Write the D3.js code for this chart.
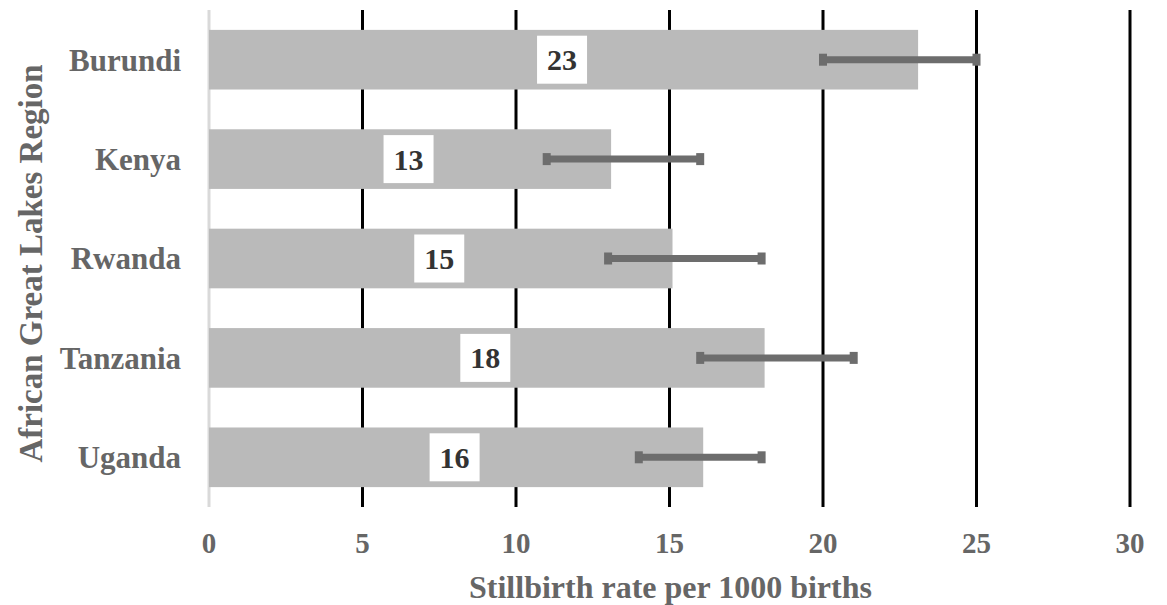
<!DOCTYPE html>
<html>
<head>
<meta charset="utf-8">
<script src="https://cdn.jsdelivr.net/npm/d3@7"></script>
<style>
  body { margin: 0; background: #fff; }
</style>
</head>
<body>
<svg id="chart" width="1167" height="605"></svg>
<script>
// data
const countries = ["Burundi", "Kenya", "Rwanda", "Tanzania", "Uganda"];
const rates = [23, 13, 15, 18, 16];
const errLow = [20, 11, 13, 16, 14];
const errHigh = [25, 16, 18, 21, 18];
const xTicks = [0, 5, 10, 15, 20, 25, 30];

const font = "'Liberation Serif', 'DejaVu Serif', serif";

const margin = {top: 10, right: 37, bottom: 98, left: 209},
      width = 1167 - margin.left - margin.right,
      height = 605 - margin.top - margin.bottom;

const root = d3.select("#chart")
    .attr("font-family", font)
    .attr("font-weight", "bold");

const svg = root.append("g")
    .attr("transform", `translate(${margin.left}, ${margin.top})`);

const x = d3.scaleLinear().domain([0, 30]).range([0, width]);
const y = d3.scaleBand().domain(countries).range([0, height]).paddingInner(0.4).paddingOuter(0.2);

// vertical gridlines
svg.append("g")
    .selectAll("line")
    .data(xTicks.slice(1))
    .enter().append("line")
    .attr("x1", d => x(d)).attr("x2", d => x(d))
    .attr("y1", 0).attr("y2", height)
    .attr("stroke", "#000")
    .attr("stroke-width", 3);

// zero axis
svg.append("line")
    .attr("x1", 0).attr("x2", 0)
    .attr("y1", 0).attr("y2", height)
    .attr("stroke", "#d9d9d9")
    .attr("stroke-width", 3);

const rows = countries.map((c, i) => ({name: c, v: rates[i], lo: errLow[i], hi: errHigh[i]}));

// bars
svg.selectAll(".bar")
    .data(rows)
    .enter().append("rect")
    .attr("class", "bar")
    .attr("x", 0)
    .attr("y", d => y(d.name))
    .attr("width", d => x(d.v) + 3)
    .attr("height", y.bandwidth())
    .attr("fill", "#bababa");

// error bars
const eb = svg.selectAll(".err")
    .data(rows)
    .enter().append("g")
    .attr("class", "err")
    .attr("transform", d => `translate(0, ${y(d.name) + y.bandwidth() / 2})`);

eb.append("line")
    .attr("x1", d => x(d.lo)).attr("x2", d => x(d.hi))
    .attr("stroke", "#6d6d6d")
    .attr("stroke-width", 7);
eb.append("rect")
    .attr("x", d => x(d.lo) - 4).attr("y", -6)
    .attr("width", 8).attr("height", 12)
    .attr("fill", "#6d6d6d");
eb.append("rect")
    .attr("x", d => x(d.hi) - 4).attr("y", -6)
    .attr("width", 8).attr("height", 12)
    .attr("fill", "#6d6d6d");

// value labels
const lab = svg.selectAll(".lab")
    .data(rows)
    .enter().append("g")
    .attr("class", "lab")
    .attr("transform", d => `translate(${x(d.v / 2)}, ${y(d.name) + y.bandwidth() / 2})`);

lab.append("rect")
    .attr("x", -25).attr("y", -24)
    .attr("width", 50).attr("height", 48)
    .attr("fill", "#fff");
lab.append("text")
    .attr("text-anchor", "middle")
    .attr("dy", "0.35em")
    .attr("font-size", 30)
    .attr("fill", "#333")
    .text(d => d.v);

// category labels
svg.selectAll(".cat")
    .data(countries)
    .enter().append("text")
    .attr("class", "cat")
    .attr("x", -28)
    .attr("y", d => y(d) + y.bandwidth() / 2)
    .attr("dy", "0.35em")
    .attr("text-anchor", "end")
    .attr("font-size", 31)
    .attr("fill", "#666")
    .text(d => d);

// x tick labels
svg.selectAll(".tick")
    .data(xTicks)
    .enter().append("text")
    .attr("class", "tick")
    .attr("x", d => x(d))
    .attr("y", height + 36)
    .attr("dy", "0.35em")
    .attr("text-anchor", "middle")
    .attr("font-size", 29)
    .attr("fill", "#666")
    .text(d => d);

// axis titles
svg.append("text")
    .attr("x", x(15) + 1)
    .attr("y", height + 80)
    .attr("dy", "0.35em")
    .attr("text-anchor", "middle")
    .attr("font-size", 32)
    .attr("fill", "#666")
    .text("Stillbirth rate per 1000 births");

svg.append("text")
    .attr("transform", `translate(${-179}, ${height / 2 + 5}) rotate(-90)`)
    .attr("dy", "0.35em")
    .attr("text-anchor", "middle")
    .attr("font-size", 33)
    .attr("fill", "#666")
    .text("African Great Lakes Region");
</script>
</body>
</html>
